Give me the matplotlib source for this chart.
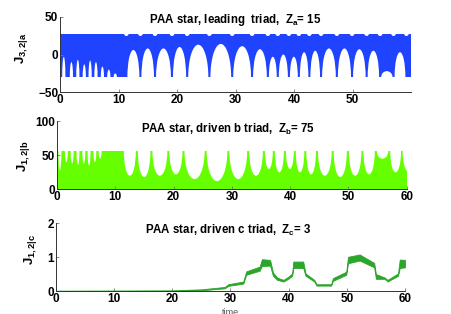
import matplotlib
matplotlib.use('Agg')
import matplotlib.pyplot as plt
from matplotlib.patches import Ellipse

plt.rcParams['font.family'] = ['Liberation Sans', 'DejaVu Sans']
plt.rcParams['font.weight'] = 'bold'
plt.rcParams['mathtext.fontset'] = 'custom'
plt.rcParams['mathtext.rm'] = 'Liberation Sans:bold'
plt.rcParams['mathtext.it'] = 'Liberation Sans:bold'
plt.rcParams['mathtext.bf'] = 'Liberation Sans:bold'

# times where the slow envelopes have their cusps (shared by a and b triads)
cusps = [11.3, 13.7, 16.2, 19.1, 21.7, 25.5, 29.4, 32.8, 35.5, 37.2, 39.1, 40.8,
         42.6, 44.6, 47.3, 49.9, 52.4, 54.7, 57.0, 59.2]

# leading triad (a): top of band, bottom of band, arc tops between cusps
a_top = 27
a_bot = -30
a_arc = [6, 8, 8, 10, 13, 14, 11, 7, -3, 0, -3, 3, 5, 8, 8, 7, 5, -22, 3]
# narrow notches in the fast part (t < 11)
a_notch_t = [0.6, 1.9, 3.0, 4.1, 5.1, 6.1, 7.2, 8.3, 9.4]
a_notch_y = [-3, -10, -7, -13, -8, -10, -16, -20, -25]

# driven b triad: spike height, valley bottoms between cusps
b_top = 56
b_valley = [20, 18, 20, 22, 15, 12, 15, 20, 30, 25, 30, 25, 22, 20, 18, 20, 22, 45, 25]
b_notch_t = [0.5, 1.6, 2.6, 3.6, 4.6, 5.5, 6.5, 7.4]
b_notch_y = [28, 40, 38, 36, 38, 35, 40, 45]

# driven c triad: band limits
c_t = [0, 20, 25, 29, 29.6, 32.2, 32.7, 35.0, 35.4, 36.8, 37.3, 38.0, 39.1, 40.0,
       40.6, 40.8, 42.5, 42.9, 44.4, 44.8, 47.3, 47.6, 49.9, 50.2, 52.2, 54.7,
       55.0, 56.5, 57.0, 58.8, 59.1, 60]
c_hi = [0.01, 0.02, 0.05, 0.12, 0.2, 0.28, 0.58, 0.72, 0.94, 0.92, 0.55, 0.4, 0.33,
        0.43, 0.52, 0.87, 0.87, 0.52, 0.33, 0.2, 0.2, 0.38, 0.57, 1.01, 1.08, 0.83,
        0.5, 0.4, 0.33, 0.52, 0.93, 0.92]
c_lo = [0, 0, 0.02, 0.08, 0.15, 0.22, 0.48, 0.6, 0.74, 0.75, 0.45, 0.33, 0.28,
        0.37, 0.45, 0.68, 0.68, 0.45, 0.28, 0.16, 0.16, 0.3, 0.48, 0.82, 0.9, 0.7,
        0.36, 0.36, 0.28, 0.45, 0.68, 0.7]

blue = '#2043ff'
lime = '#66ff00'
green = '#2ca52c'
gap = 0.35


def style(ax, xmax, ylim, yticks, xticks):
    ax.set_xlim(0, xmax)
    ax.set_ylim(ylim)
    ax.set_yticks(yticks)
    ax.set_xticks(xticks)
    for s in ['top', 'right']:
        ax.spines[s].set_visible(False)
    for s in ['left', 'bottom']:
        ax.spines[s].set_color('#333333')
        ax.spines[s].set_linewidth(0.7)
    ax.tick_params(direction='in', length=2.5, width=0.6, labelsize=8.5,
                   colors='#777777', labelcolor='black', pad=1.5)


fig = plt.figure(figsize=(4.52, 3.14), dpi=100)
ax1 = fig.add_axes([0.1334, 0.706, 0.7748, 0.2408])
ax2 = fig.add_axes([0.1261, 0.3971, 0.7737, 0.2166])
ax3 = fig.add_axes([0.1239, 0.0732, 0.7721, 0.2156])

# --- a triad
ax1.fill_between([0, 59.9], a_bot, a_top, color=blue, lw=0)
for i in range(len(a_arc)):
    c0, c1 = cusps[i], cusps[i + 1]
    ax1.add_patch(Ellipse(((c0 + c1) / 2, a_bot), c1 - c0 - gap,
                          2 * (a_arc[i] - a_bot), color='white', lw=0))
for c in cusps:
    ax1.add_patch(Ellipse((c, a_top + 2), 0.9, 9, color='white', lw=0))
for t, y in zip(a_notch_t, a_notch_y):
    ax1.add_patch(Ellipse((t, a_bot), 0.55, 2 * (y - a_bot), color='white', lw=0))
style(ax1, 59.9, (-50, 50), [-50, 0, 50], [0, 10, 20, 30, 40, 50])
ax1.text(0.5, 0.955, r'PAA star, leading  triad,  $Z_a$= 15', transform=ax1.transAxes,
         ha='center', va='center', fontsize=8.3, fontweight='bold', zorder=5)

# --- b triad
ax2.fill_between([0, 60], 0, b_top, color=lime, lw=0)
for i in range(len(b_valley)):
    c0, c1 = cusps[i], cusps[i + 1]
    ax2.add_patch(Ellipse(((c0 + c1) / 2, b_top), c1 - c0 - gap,
                          2 * (b_top - b_valley[i]), color='white', lw=0))
ax2.add_patch(Ellipse((60.4, b_top), 2.2, 2 * (b_top - 25), color='white', lw=0))
for t, y in zip(b_notch_t, b_notch_y):
    ax2.add_patch(Ellipse((t, b_top), 0.5, 2 * (b_top - y), color='white', lw=0))
style(ax2, 60, (0, 100), [0, 50, 100], [0, 10, 20, 30, 40, 50, 60])
ax2.text(0.489, 0.887, r'PAA star, driven b triad,  $Z_b$= 75', transform=ax2.transAxes,
         ha='center', va='center', fontsize=8.3, fontweight='bold', zorder=5)

# --- c triad
ax3.fill_between(c_t, c_lo, c_hi, color=green, lw=0.6, edgecolor=green)
style(ax3, 60, (0, 2), [0, 1, 2], [0, 10, 20, 30, 40, 50, 60])
ax3.text(0.493, 0.90, r'PAA star, driven c triad,  $Z_c$= 3', transform=ax3.transAxes,
         ha='center', va='center', fontsize=8.3, fontweight='bold', zorder=5)

# y labels
fig.text(22 / 452, 1 - 48 / 314, r'$J_{3,2|a}$', rotation=90, ha='center', va='center', fontsize=9.5)
fig.text(23 / 452, 1 - 156 / 314, r'$J_{1,2|b}$', rotation=90, ha='center', va='center', fontsize=9.5)
fig.text(31 / 452, 1 - 249 / 314, r'$J_{1,2|c}$', rotation=90, ha='center', va='center', fontsize=9.5)
fig.text(230 / 452, 1 - 308 / 314, 'time', ha='center', va='top', fontsize=6.5,
         fontweight='normal', color='#555555')

fig.savefig('out.png', dpi=100)
